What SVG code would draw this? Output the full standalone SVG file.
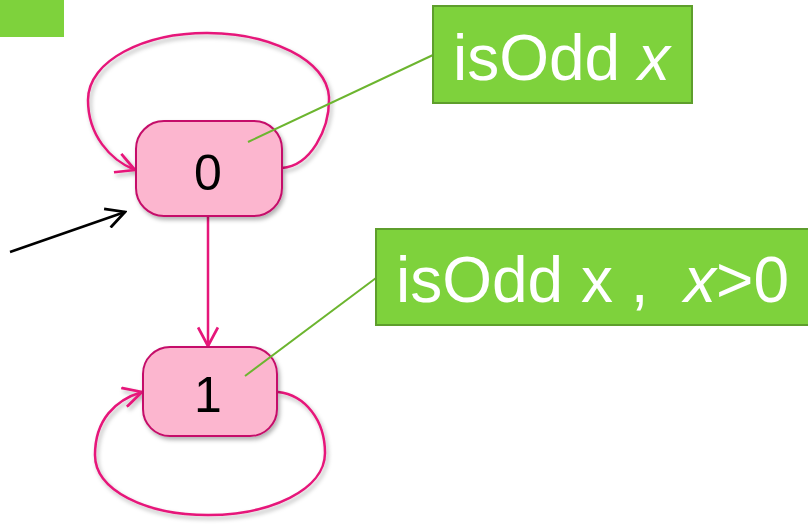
<svg xmlns="http://www.w3.org/2000/svg" width="808" height="525" viewBox="0 0 808 525">
  <style>
    .state { fill: #fcb6cf; stroke: #c5106a; stroke-width: 2; }
    .label { font-family: "Liberation Sans", Arial, sans-serif; fill: #000; text-anchor: middle; font-size: 50px; }
    .edge { fill: none; stroke: #e6177a; stroke-width: 2.5; }
    .note { fill: #7ed23c; stroke: #5e9e2c; stroke-width: 2; }
    .note-text { font-family: "Liberation Sans", Arial, sans-serif; fill: #fff; font-size: 64px; }
    .lead { stroke: #6cb52f; stroke-width: 2; fill: none; }
    .start { fill: none; stroke: #000; stroke-width: 2.5; }
  </style>
  <defs>
    <filter id="shadow" x="-20%" y="-20%" width="140%" height="140%">
      <feDropShadow dx="2" dy="3" stdDeviation="2" flood-color="#000" flood-opacity="0.3"/>
    </filter>
    <marker id="vhead" viewBox="0 0 20 20" refX="18" refY="10" markerWidth="22" markerHeight="22" markerUnits="userSpaceOnUse" orient="auto">
      <path d="M1,1 L18,10 L1,19" fill="none" stroke="#e6177a" stroke-width="2.5"/>
    </marker>
    <marker id="vhead-black" viewBox="0 0 20 20" refX="18" refY="10" markerWidth="22" markerHeight="22" markerUnits="userSpaceOnUse" orient="auto">
      <path d="M1,1 L18,10 L1,19" fill="none" stroke="#000" stroke-width="2.5"/>
    </marker>
  </defs>

  <rect x="0" y="0" width="64" height="37" fill="#7ed23c"/>

  <g id="connectors">
    <path class="edge" filter="url(#shadow)" marker-end="url(#vhead)" d="M282,168 C310,166 330,130 329,97 C327,60 270,33 207,33 C145,33 88,60 88,100 C88,135 110,160 135,170"/>
    <path class="edge" marker-end="url(#vhead)" d="M208,217 L208,346"/>
    <path class="edge" filter="url(#shadow)" marker-end="url(#vhead)" d="M278,392 C305,395 325,420 325,453 C325,490 270,515 208,515 C145,515 95,490 95,455 C95,420 115,400 142,392"/>
    <path class="start" marker-end="url(#vhead-black)" d="M10,252 L125,212"/>
  </g>

  <g id="state-0">
    <rect class="state" filter="url(#shadow)" x="136" y="121" width="146" height="95" rx="28"/>
    <text class="label" x="208" y="190">0</text>
  </g>

  <g id="state-1">
    <rect class="state" filter="url(#shadow)" x="143" y="347" width="134" height="89" rx="27"/>
    <text class="label" x="208" y="412">1</text>
  </g>

  <g id="note-0">
    <path class="lead" d="M433,55 L248,142"/>
    <rect class="note" x="433" y="6" width="259" height="97"/>
    <text class="note-text" x="453" y="80">isOdd <tspan font-style="italic">x</tspan></text>
  </g>

  <g id="note-1">
    <path class="lead" d="M376,278 L245,376"/>
    <rect class="note" x="376" y="229" width="440" height="96"/>
    <text class="note-text" x="396" y="302" xml:space="preserve">isOdd x ,  <tspan font-style="italic">x</tspan>&gt;0</text>
  </g>
</svg>
